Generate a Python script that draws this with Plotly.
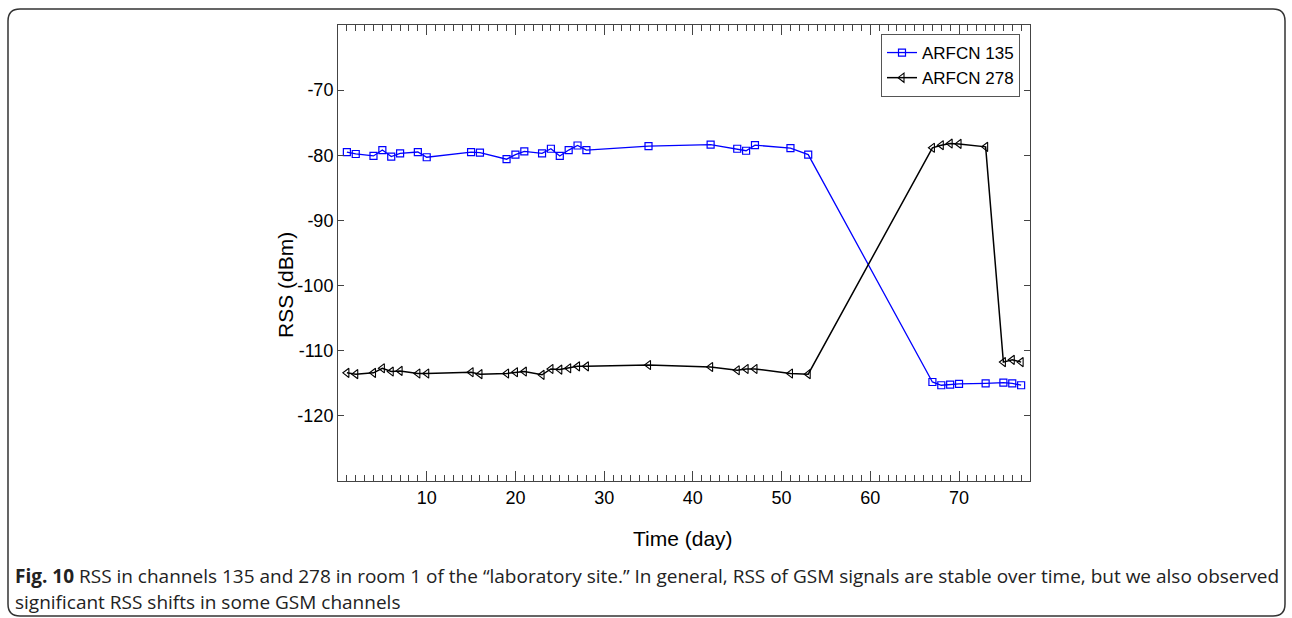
import plotly.graph_objects as go

days = [1, 2, 4, 5, 6, 7, 9, 10, 15, 16, 19, 20, 21, 23, 24, 25, 26, 27, 28,
        35, 42, 45, 46, 47, 51, 53, 67, 68, 69, 70, 73, 75, 76, 77]

arfcn135 = [-79.5, -79.8, -80.1, -79.2, -80.2, -79.7, -79.5, -80.3, -79.5, -79.6,
            -80.6, -79.9, -79.4, -79.7, -79.0, -80.1, -79.2, -78.5, -79.2,
            -78.6, -78.35, -79.0, -79.3, -78.45, -78.9, -79.9,
            -114.8, -115.3, -115.2, -115.1, -115.0, -114.9, -115.0, -115.3]

arfcn278 = [-113.4, -113.6, -113.4, -112.7, -113.2, -113.1, -113.5, -113.5, -113.3, -113.6,
            -113.5, -113.3, -113.2, -113.7, -112.8, -112.9, -112.7, -112.4, -112.4,
            -112.2, -112.5, -113.0, -112.8, -112.8, -113.5, -113.6,
            -78.85, -78.45, -78.2, -78.25, -78.7, -111.75, -111.4, -111.75]

series_names = ["ARFCN 135", "ARFCN 278"]
x_ticks = [10, 20, 30, 40, 50, 60, 70]
y_ticks = [-120, -110, -100, -90, -80, -70]

caption_line1 = ("<b>Fig. 10</b> RSS in channels 135 and 278 in room 1 of the \u201claboratory site.\u201d "
                 "In general, RSS of GSM signals are stable over time, but we also observed")
caption_line2 = "significant RSS shifts in some GSM channels"

W, H = 1292, 618
L, R, T, B = 338, 1030, 25, 481


def px2x(px):
    return (px - L) / (R - L)


def py2y(py):
    return (B - py) / (B - T)


fig = go.Figure()
fig.add_trace(go.Scatter(
    x=days, y=arfcn135, name=series_names[0], mode="lines+markers",
    line=dict(color="#0000ff", width=1.3),
    marker=dict(symbol="square-open", size=7, color="#0000ff", line=dict(width=1.2)),
))
fig.add_trace(go.Scatter(
    x=days, y=arfcn278, name=series_names[1], mode="lines+markers",
    line=dict(color="#000000", width=1.5),
    marker=dict(symbol="triangle-left-open", size=8, color="#000000", line=dict(width=1.1)),
))

axis_font = dict(family="Liberation Sans, Arial, sans-serif", size=18, color="#000")

fig.update_xaxes(
    range=[0, 78], tickmode="array", tickvals=x_ticks, ticktext=[str(v) for v in x_ticks],
    ticks="inside", ticklen=10, tickwidth=1, tickcolor="#444",
    minor=dict(dtick=1, tick0=0, ticks="inside", ticklen=6, tickcolor="#444", tickwidth=1),
    showline=True, linecolor="#444", linewidth=1, mirror="ticks",
    showgrid=False, zeroline=False, tickfont=axis_font,
)
fig.update_yaxes(
    range=[-130, -60], tickmode="array", tickvals=y_ticks, ticktext=[str(v) for v in y_ticks],
    ticks="inside", ticklen=6, tickwidth=1, tickcolor="#444",
    showline=True, linecolor="#444", linewidth=1, mirror="ticks",
    showgrid=False, zeroline=False, tickfont=axis_font,
)

r = 12
x0, x1, y0, y1 = 8, 1285, 9, 616
pts = [
    ("M", [(x0 + r, y0)]),
    ("L", [(x1 - r, y0)]),
    ("Q", [(x1, y0), (x1, y0 + r)]),
    ("L", [(x1, y1 - r)]),
    ("Q", [(x1, y1), (x1 - r, y1)]),
    ("L", [(x0 + r, y1)]),
    ("Q", [(x0, y1), (x0, y1 - r)]),
    ("L", [(x0, y0 + r)]),
    ("Q", [(x0, y0), (x0 + r, y0)]),
]
path = ""
for cmd, ps in pts:
    path += cmd + " " + " ".join(f"{px2x(a):.5f},{py2y(b):.5f}" for a, b in ps) + " "
path += "Z"

fig.update_layout(
    width=W, height=H,
    margin=dict(l=L, r=W - R, t=T, b=H - B, autoexpand=False),
    paper_bgcolor="white", plot_bgcolor="white",
    showlegend=True,
    legend=dict(
        x=px2x(1020), y=py2y(34), xanchor="right", yanchor="top",
        bordercolor="#555", borderwidth=1, bgcolor="white",
        font=dict(family="Liberation Sans, Arial, sans-serif", size=17, color="#000"),
        tracegroupgap=0, itemwidth=30,
    ),
    shapes=[dict(type="path", xref="paper", yref="paper", path=path,
                 line=dict(color="#333", width=1.5), layer="above")],
    annotations=[
        dict(text="Time (day)", xref="paper", yref="paper", x=px2x(683), y=py2y(538),
             xanchor="center", yanchor="middle", showarrow=False,
             font=dict(family="Liberation Sans, Arial, sans-serif", size=21, color="#000")),
        dict(text="RSS (dBm)", xref="paper", yref="paper", x=px2x(285), y=py2y(285),
             xanchor="center", yanchor="middle", showarrow=False, textangle=-90,
             font=dict(family="Liberation Sans, Arial, sans-serif", size=21, color="#000")),
        dict(text=caption_line1, xref="paper", yref="paper", x=px2x(13), y=py2y(576),
             xanchor="left", yanchor="middle", showarrow=False, align="left",
             font=dict(family="Open Sans, Noto Sans, sans-serif", size=19, color="#222")),
        dict(text=caption_line2, xref="paper", yref="paper", x=px2x(13), y=py2y(602),
             xanchor="left", yanchor="middle", showarrow=False, align="left",
             font=dict(family="Open Sans, Noto Sans, sans-serif", size=19, color="#222")),
    ],
)

fig.write_html("out.html")
